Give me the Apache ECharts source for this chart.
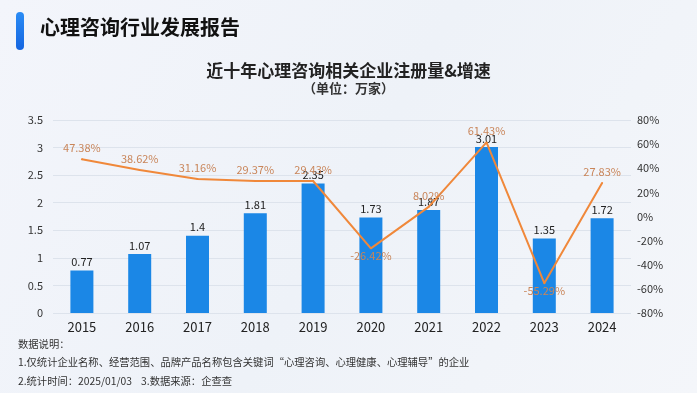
<!DOCTYPE html>
<html><head><meta charset="utf-8">
<script src="https://cdn.jsdelivr.net/npm/echarts@6/dist/echarts.min.js"></script>
<style>html,body{margin:0;padding:0;}#c{width:697px;height:393px;}</style>
</head><body><div id="c"></div>
<script>
const categories = ['2015','2016','2017','2018','2019','2020','2021','2022','2023','2024'];
const counts = [0.77,1.07,1.4,1.81,2.35,1.73,1.87,3.01,1.35,1.72];
const growth = [47.38,38.62,31.16,29.37,29.43,-26.42,8.02,61.43,-55.29,27.83];
const leftTicks = [0,0.5,1,1.5,2,2.5,3,3.5];
const rightTicks = [-80,-60,-40,-20,0,20,40,60,80];

const chart = echarts.init(document.getElementById('c'));
const font = '"Noto Sans CJK SC","Noto Sans",sans-serif';
const growthData = growth.map(v => v < 0 ? {value:v,label:{position:'bottom',distance:1}} : v);
chart.setOption({
  backgroundColor: new echarts.graphic.LinearGradient(0,0,1,1,[{offset:0,color:'#f3f5fb'},{offset:0.5,color:'#eef2f8'},{offset:1,color:'#f4f6fa'}]),
  textStyle:{fontFamily:font},
  title:[{
    text:'近十年心理咨询相关企业注册量&增速',
    subtext:'（单位：万家）',
    left:'center', top:57, itemGap:3,
    textStyle:{fontSize:17,fontWeight:'bold',color:'#222',fontFamily:font},
    subtextStyle:{fontSize:13,fontWeight:'bold',color:'#333',fontFamily:font}
  }],
  graphic:[
    {type:'rect',left:16,top:12,shape:{width:8,height:38,r:4},style:{fill:new echarts.graphic.LinearGradient(0,0,0,1,[{offset:0,color:'#2a8cf5'},{offset:1,color:'#1565e0'}])}},
    {type:'text',left:40,top:17,style:{text:'心理咨询行业发展报告',fontSize:20,fontWeight:'bold',fill:'#111',fontFamily:font}},
    {type:'text',left:18,top:339,style:{text:'数据说明：',fontSize:10.3,fill:'#333',fontFamily:font}},
    {type:'text',left:18,top:357,style:{text:'1.仅统计企业名称、经营范围、品牌产品名称包含关键词“心理咨询、心理健康、心理辅导”的企业',fontSize:10.3,fill:'#333',fontFamily:font}},
    {type:'text',left:18,top:376,style:{text:'2.统计时间：2025/01/03    3.数据来源：企查查',fontSize:10.3,fill:'#333',fontFamily:font}}
  ],
  grid:{left:53,right:66,top:120,bottom:80},
  xAxis:{type:'category',data:categories,
    axisLine:{show:false},axisTick:{show:false},
    axisLabel:{fontSize:13,color:'#222',margin:8}},
  yAxis:[
    {type:'value',min:0,max:3.5,interval:0.5,
      axisLabel:{fontSize:11,color:'#333',margin:10,formatter:v=>String(v)},
      splitLine:{lineStyle:{color:'#dde3ec'}},axisLine:{show:false},axisTick:{show:false}},
    {type:'value',min:-80,max:80,interval:20,position:'right',
      axisLabel:{fontSize:11,color:'#333',margin:6,formatter:'{value}%'},
      splitLine:{show:false},axisLine:{show:false},axisTick:{show:false}}
  ],
  series:[
    {type:'bar',data:counts,barWidth:23,yAxisIndex:0,
      itemStyle:{color:'#1b87e6'},
      label:{show:true,position:'top',fontSize:11,color:'#222',distance:3}},
    {type:'line',data:growthData,yAxisIndex:1,symbol:'circle',symbolSize:2,showSymbol:true,
      itemStyle:{color:'#f0883a'},
      lineStyle:{color:'#f0883a',width:2},
      label:{show:true,position:'top',fontSize:11,color:'#c98559',distance:5,formatter:'{c}%'},
      labelLayout:{hideOverlap:false},
      z:3}
  ]
});
</script></body></html>
